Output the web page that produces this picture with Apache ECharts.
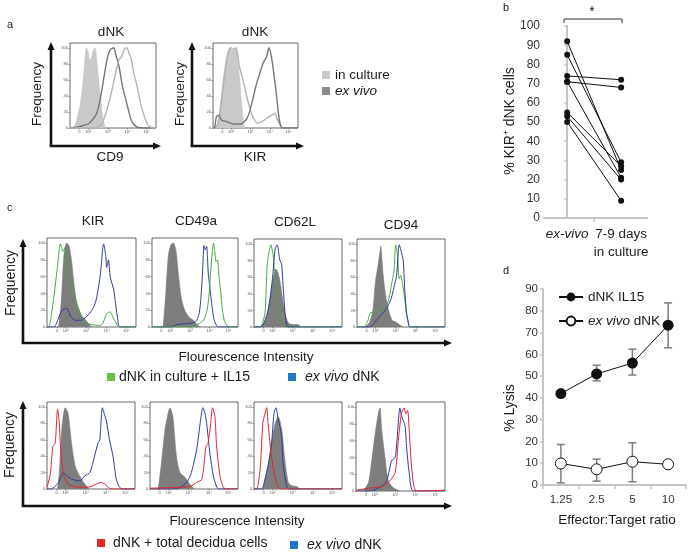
<!DOCTYPE html>
<html><head><meta charset="utf-8">
<script src="https://cdn.jsdelivr.net/npm/echarts@6/dist/echarts.min.js"></script>
<style>html,body{margin:0;padding:0;background:#fff}#c{width:690px;height:552px}</style>
</head><body><div id="c"></div>
<script>
// ---------- DATA ----------
// histogram axis (channel 0-100, frequency 0-100)
const histTickPos = [11, 21, 44, 67, 89];
const histTickText = ['0', '10\u00b2', '10\u00b3', '10\u2074', '10\u2075'];
const histYTicks = [0, 20, 40, 60, 80, 100];

// panel a: CD9
const aCD9_fill = [[3,0],[6,4],[9,15],[12,30],[15,55],[17,80],[19,100],[21,95],[23,84],[25,88],[27,96],[29,100],[31,85],[33,62],[35,42],[37,22],[39,8],[41,0]];
const aCD9_exvivo = [[0,0],[8,1],[15,3],[21,5],[26,10],[31,18],[35,35],[39,60],[43,85],[47,98],[51,100],[53,92],[55,85],[57,77],[61,52],[65,35],[69,18],[72,8],[78,1],[85,0],[100,0]];
const aCD9_culture = [[0,0],[25,0],[35,3],[41,16],[47,39],[53,68],[57,85],[60,89],[63,98],[66,100],[69,92],[71,87],[74,70],[78,52],[82,31],[86,16],[90,5],[94,1],[100,0]];
// panel a: KIR
const aKIR_fill = [[2,0],[5,5],[8,22],[12,60],[16,89],[20,100],[23,96],[26,100],[28,95],[31,64],[34,26],[37,0]];
const aKIR_culture = [[0,0],[4,2],[6,5],[10,35],[14,68],[18,94],[21,100],[24,98],[27,100],[29,92],[31,77],[34,65],[37,52],[40,38],[43,26],[46,16],[49,10],[52,6],[55,7],[59,9],[63,12],[69,16],[73,18],[75,12],[79,4],[82,0],[100,0]];
const aKIR_exvivo = [[0,0],[2,1],[4,14],[7,16],[10,10],[16,8],[24,5],[33,5],[37,8],[40,12],[43.5,22],[47.5,39],[51.4,56],[55,68],[59,81],[63,89],[66,100],[69,87],[72,64],[74.5,43],[77,18],[79.6,3],[82,0],[100,0]];

// panel c row 1 (in culture + IL15)
const cKIR_iso = [[13,0],[16,30],[19,85],[22,100],[25,96],[28,75],[31,45],[34,25],[38,15],[42,10],[46,5],[50,0]];
const cKIR_green = [[0,0],[2,0],[5,15],[7,30],[11.6,70],[15,99],[18,90],[20.5,95],[24,56],[29.5,44],[33.7,28],[41,8],[49,3],[60,2],[63,5],[67,16],[71,18],[74,12],[77,6],[80,1],[83,0],[100,0]];
const cKIR_blue = [[0,0],[8,0],[12,8],[17,20],[22,22],[27,12],[32,8],[38,8],[44,12],[49,18],[53,25],[56,36],[60,63],[63.6,99],[66,85],[67,71],[69,80],[71,60],[75,44],[77,28],[79,13],[82,0],[100,0]];
const cCD49a_iso = [[13,0],[16,40],[19,85],[22,98],[25,100],[28,90],[31,60],[34,35],[38,20],[43,12],[48,8],[53,2],[56,0]];
const cCD49a_blue = [[0,0],[20,0],[30,3],[40,4],[48,5],[52,8],[55,17],[57,36],[59,70],[60.5,97],[62,92],[63.5,96],[65.5,63],[67.5,45],[69.4,28],[71.5,12],[73.5,5],[77,0],[100,0]];
const cCD49a_green = [[0,0],[45,0],[50,2],[55,4],[60,8],[64,20],[66.5,40],[68,62],[70,88],[71.5,100],[73,90],[74.5,78],[76,80],[78,60],[80,40],[82,20],[84,8],[87,2],[90,0],[100,0]];
const cCD62L_iso = [[8,0],[12,6],[16,20],[19,40],[22,60],[25,70],[27,66],[29,58],[31,45],[33,30],[35,18],[37.5,8],[40,4],[45,3],[50,3],[53,0]];
const cCD62L_green = [[0,0],[6,0],[8.7,2],[12.5,17],[15,75],[17,90],[19,99],[21.6,88],[23,70],[24,64],[25,40],[27,25],[29,15],[31,8],[33,4],[36,0],[100,0]];
const cCD62L_blue = [[0,0],[8,0],[12.5,8],[16,20],[19,40],[21.5,64],[24,94],[26.5,99],[28,90],[29.5,80],[31.4,76],[33,50],[35,20],[37,3],[39,0],[100,0]];
const cCD94_iso = [[9,0],[14,5],[18,20],[21,55],[24,75],[26,90],[27,97],[28.5,80],[30,60],[33,35],[36,20],[40,8],[44,6],[48,3],[52,0]];
const cCD94_green = [[0,0],[8,0],[12.5,8],[15,17],[20,18],[26,20],[30,23],[34,27],[37,38],[39,50],[42,67],[44,99],[46,87],[48,58],[49.6,62],[52,50],[54.5,32],[56,16],[58,8],[60,0],[100,0]];
const cCD94_blue = [[0,0],[15,0],[22,8],[29.5,17],[35,25],[39,35],[42,48],[45,62],[48,99],[51,88],[52.6,80],[54.5,40],[56.5,16],[59,2],[61,0],[100,0]];

// panel c row 2 (+ total decidua cells)
const dKIR_iso = [[12,0],[14,20],[17,75],[20.6,99],[24,92],[28,55],[32,28],[37,16],[43,6],[48,0]];
const dKIR_red = [[0,2],[3.7,18],[6.7,52],[9.3,56],[12,97],[14,80],[15.7,45],[18.7,18],[22.5,8],[29.6,3],[45,2],[50,3],[56,6],[62,8],[65.5,6],[71,1],[75,0],[100,0]];
const dKIR_blue = [[0,0],[4,0],[9,3],[13,8],[18.7,20],[22.5,16],[28,12],[37,10],[43,16],[48.7,20],[54,40],[58,56],[60,60],[63,99],[65.5,90],[67.5,83],[71,60],[75,40],[78.7,12],[82,3],[85,0],[100,0]];
const dCD49a_iso = [[8,0],[9.5,2],[13,32],[17,72],[20.5,92],[22.7,99],[26,88],[30,40],[34,20],[40,14],[45,6],[50,0]];
const dCD49a_blue = [[0,0],[30,0],[34,2],[41.7,8],[47,20],[53,48],[57,80],[60,99],[62.5,92],[64.4,80],[68,44],[72,16],[76,2],[79,0],[100,0]];
const dCD49a_red = [[0,1],[34,2],[45,3],[53,8],[59,12],[63.6,52],[66,56],[69,80],[71,99],[73.8,88],[75.7,52],[79.5,16],[83,3],[86,0],[100,0]];
const dCD62L_iso = [[10,0],[16,28],[20,56],[24,80],[27.6,88],[31.5,72],[35,36],[39,8],[43,4],[48.5,3],[52,0]];
const dCD62L_red = [[0,0],[3,0],[7,25],[10,80],[12.5,92],[14.4,99],[16,80],[19,48],[22,24],[26,6],[30,0],[100,0]];
const dCD62L_blue = [[0,0],[8.7,0],[12.5,12],[16,28],[20,56],[22.7,92],[25,99],[27.6,84],[29.5,76],[31.5,64],[33,32],[37,4],[40,0],[100,0]];
const dCD94_iso = [[8,0],[14,10],[17.6,36],[21,64],[25,92],[27,99],[29,72],[32.6,40],[36.3,12],[42,4],[49.4,0]];
const dCD94_blue = [[0,0],[15.7,0],[29,6],[34.5,12],[40,36],[44,40],[45.7,56],[49.4,99],[51,90],[55,78],[57,50],[60,20],[64.5,0],[100,0]];
const dCD94_red = [[0,1],[19.5,4],[30.7,6],[38,12],[44,22],[47.5,60],[51,92],[54,99],[56,92],[58,96],[60,68],[62.5,28],[65,6],[68,0],[100,1]];

// panel b: % KIR+ dNK cells (paired)
const bCategories = ['ex-vivo', '7-9 days\nin culture'];
const bExVivo = [92, 85, 74, 71, 71, 55, 53, 50];
const bCulture = [25, 29, 72, 68, 21, 27, 20, 9];
const bYTicks = [0, 10, 20, 30, 40, 50, 60, 70, 80, 90, 100];

// panel d: % Lysis
const dRatios = ['1.25', '2.5', '5', '10'];
const dIL15 = [42, 51, 56, 73.4];
const dIL15Err = [[41, 43], [47.8, 55], [50.5, 62.4], [63, 83.6]];
const dExVivo = [9.9, 7.2, 10.7, 9.5];
const dExVivoErr = [[1, 18.6], [1.8, 11.9], [1.5, 19.4], [8.8, 10.2]];

// ---------- LAYOUT / STYLE ----------
const FONT = '"Liberation Sans", Arial, Helvetica, sans-serif';
const ST = {
  fillA: {color: '#c9c9c9', area: true, w: 0.8},
  light: {color: '#b4b4b4', w: 1.4},
  dark: {color: '#767676', w: 1.4},
  iso: {color: '#7d7d7d', area: true, w: 0.6},
  green: {color: '#46a847', w: 1},
  blue: {color: '#2c3c9c', w: 1},
  red: {color: '#e3242b', w: 1}
};
const hists = [
  {l:70, t:43, w:86, h:85, s:[[aCD9_fill,'fillA'],[aCD9_exvivo,'dark'],[aCD9_culture,'light']]},
  {l:213, t:43, w:85, h:85, s:[[aKIR_fill,'fillA'],[aKIR_culture,'light'],[aKIR_exvivo,'dark']]},
  {l:47, t:238, w:89, h:89, s:[[cKIR_iso,'iso'],[cKIR_blue,'blue'],[cKIR_green,'green']]},
  {l:152, t:238, w:86, h:89, s:[[cCD49a_iso,'iso'],[cCD49a_blue,'blue'],[cCD49a_green,'green']]},
  {l:254, t:239, w:88, h:88, s:[[cCD62L_iso,'iso'],[cCD62L_green,'green'],[cCD62L_blue,'blue']]},
  {l:357, t:239, w:88, h:88, s:[[cCD94_iso,'iso'],[cCD94_green,'green'],[cCD94_blue,'blue']]},
  {l:47, t:402, w:88, h:87, s:[[dKIR_iso,'iso'],[dKIR_blue,'blue'],[dKIR_red,'red']]},
  {l:150, t:402, w:88, h:87, s:[[dCD49a_iso,'iso'],[dCD49a_blue,'blue'],[dCD49a_red,'red']]},
  {l:254, t:402, w:88, h:87, s:[[dCD62L_iso,'iso'],[dCD62L_blue,'blue'],[dCD62L_red,'red']]},
  {l:356, t:402, w:89, h:89, s:[[dCD94_iso,'iso'],[dCD94_blue,'blue'],[dCD94_red,'red']]}
];

const grid = [], xAxis = [], yAxis = [], series = [];
hists.forEach((p, i) => {
  grid.push({left:p.l, top:p.t, width:p.w, height:p.h, show:true, borderColor:'#444', borderWidth:0.8, backgroundColor:'transparent'});
  xAxis.push({gridIndex:i, type:'value', min:0, max:100,
    axisLine:{show:false}, splitLine:{show:false},
    axisTick:{show:true, customValues:histTickPos, length:1.5, lineStyle:{color:'#555', width:0.6}},
    axisLabel:{customValues:histTickPos, formatter:v => histTickText[histTickPos.indexOf(v)], fontSize:4, color:'#555', margin:2, fontFamily:FONT}});
  yAxis.push({gridIndex:i, type:'value', min:0, max:106,
    axisLine:{show:false}, splitLine:{show:false},
    axisTick:{show:true, customValues:histYTicks, length:1.5, lineStyle:{color:'#555', width:0.6}},
    axisLabel:{customValues:histYTicks, fontSize:4, color:'#555', margin:2, fontFamily:FONT}});
  p.s.forEach(([data, k], j) => {
    const st = ST[k];
    series.push({type:'line', xAxisIndex:i, yAxisIndex:i, data:data, symbol:'none', smooth:0.25,
      lineStyle:{color:st.color, width:st.w}, areaStyle: st.area ? {color:st.color, opacity:1} : undefined,
      silent:true, z:2+j});
  });
});

// panel b
const bi = grid.length;
grid.push({left:544, top:26, width:103, height:192});
xAxis.push({gridIndex:bi, type:'value', min:-0.43, max:1.48,
  axisLine:{show:true, lineStyle:{color:'#c4c4c4', width:2}}, splitLine:{show:false},
  axisTick:{show:true, customValues:[0.5], length:4, lineStyle:{color:'#c4c4c4', width:1.5}},
  axisLabel:{customValues:[0, 1], margin:7, fontSize:13.5, color:'#222', fontFamily:FONT, lineHeight:18,
    formatter: v => v === 0 ? '{i|' + bCategories[0] + '}' : bCategories[1],
    rich:{i:{fontStyle:'italic', fontSize:13.5, fontFamily:FONT, color:'#222'}}}});
yAxis.push({gridIndex:bi, type:'value', min:0, max:100, interval:10,
  axisLine:{show:true, lineStyle:{color:'#c4c4c4', width:2}}, splitLine:{show:false},
  axisTick:{show:true, length:3, lineStyle:{color:'#c4c4c4', width:1.5}},
  axisLabel:{fontSize:12, color:'#333', margin:4, fontFamily:FONT}});
bExVivo.forEach((v, k) => {
  series.push({type:'line', xAxisIndex:bi, yAxisIndex:bi, data:[[0, v], [1, bCulture[k]]],
    symbol:'circle', symbolSize:6, itemStyle:{color:'#111'}, lineStyle:{color:'#111', width:1}, silent:true, z:5});
});

// panel d
const di = grid.length;
grid.push({left:543, top:289, width:143, height:196});
xAxis.push({gridIndex:di, type:'category', data:dRatios, boundaryGap:true,
  axisLine:{show:true, lineStyle:{color:'#c4c4c4', width:2}},
  axisTick:{show:true, length:4, lineStyle:{color:'#c4c4c4', width:1.5}},
  axisLabel:{fontSize:11.5, color:'#333', margin:9, fontFamily:FONT}});
yAxis.push({gridIndex:di, type:'value', min:0, max:90, interval:10,
  axisLine:{show:true, lineStyle:{color:'#c4c4c4', width:2}}, splitLine:{show:false},
  axisTick:{show:true, length:3, lineStyle:{color:'#c4c4c4', width:1.5}},
  axisLabel:{fontSize:11.5, color:'#333', margin:5, fontFamily:FONT}});
const errItem = (params, api) => {
  const x = api.value(0), lo = api.value(1), hi = api.value(2);
  const p1 = api.coord([x, lo]), p2 = api.coord([x, hi]);
  const w = 4, s = {stroke:'#7d7d7d', lineWidth:1.5};
  return {type:'group', children:[
    {type:'line', shape:{x1:p1[0], y1:p1[1], x2:p2[0], y2:p2[1]}, style:s},
    {type:'line', shape:{x1:p1[0]-w, y1:p1[1], x2:p1[0]+w, y2:p1[1]}, style:s},
    {type:'line', shape:{x1:p2[0]-w, y1:p2[1], x2:p2[0]+w, y2:p2[1]}, style:s}]};
};
series.push({type:'custom', name:'errIL15', xAxisIndex:di, yAxisIndex:di, renderItem:errItem,
  data:dIL15Err.map((e, k) => [k, e[0], e[1]]), encode:{x:0, y:[1, 2]}, silent:true, z:3});
series.push({type:'custom', name:'errExVivo', xAxisIndex:di, yAxisIndex:di, renderItem:errItem,
  data:dExVivoErr.map((e, k) => [k, e[0], e[1]]), encode:{x:0, y:[1, 2]}, silent:true, z:3});
series.push({type:'line', name:'dNK IL15', xAxisIndex:di, yAxisIndex:di, data:dIL15,
  symbol:'circle', symbolSize:11, itemStyle:{color:'#111'}, lineStyle:{color:'#111', width:1}, z:5});
series.push({type:'line', name:'ex vivo dNK', xAxisIndex:di, yAxisIndex:di, data:dExVivo,
  symbol:'circle', symbolSize:11, itemStyle:{color:'#fff', borderColor:'#111', borderWidth:1}, lineStyle:{color:'#111', width:1}, z:5});

// ---------- GRAPHICS (text, arrows, legends) ----------
const g = [];
const txt = (t, x, y, o = {}) => g.push({type:'text', x:x, y:y, rotation:o.rot || 0, silent:true,
  style:{text:t, fontSize:o.fs || 13.5, fontFamily:FONT, fontStyle:o.it ? 'italic' : 'normal', fill:o.c || '#1a1a1a',
    align:o.al || 'center', verticalAlign:'middle',
    rich:{i:{fontStyle:'italic', fontSize:o.fs || 13.5, fontFamily:FONT, fill:o.c || '#1a1a1a'}}}});
const sq = (x, y, c) => g.push({type:'rect', shape:{x:x, y:y, width:8, height:8}, style:{fill:c}, silent:true});
const arrowV = (x, y1, y2) => {
  g.push({type:'line', shape:{x1:x, y1:y1, x2:x, y2:y2 + 6}, style:{stroke:'#111', lineWidth:2.6}, silent:true});
  g.push({type:'polygon', shape:{points:[[x - 3.5, y2 + 8], [x + 3.5, y2 + 8], [x, y2]]}, style:{fill:'#111'}, silent:true});
};
const arrowH = (y, x1, x2) => {
  g.push({type:'line', shape:{x1:x1 - 1.3, y1:y, x2:x2 - 6, y2:y}, style:{stroke:'#111', lineWidth:2.6}, silent:true});
  g.push({type:'polygon', shape:{points:[[x2 - 8, y - 3.5], [x2 - 8, y + 3.5], [x2, y]]}, style:{fill:'#111'}, silent:true});
};
// panel letters
txt('a', 7, 25, {fs:11, al:'left'});
txt('b', 503, 8, {fs:11, al:'left'});
txt('c', 7, 208, {fs:11, al:'left'});
txt('d', 503, 271, {fs:11, al:'left'});
// panel a
txt('dNK', 111, 32); txt('dNK', 255, 32);
txt('Frequency', 37, 94, {rot:Math.PI / 2, fs:13.5});
txt('Frequency', 180, 94, {rot:Math.PI / 2, fs:13.5});
arrowV(51, 146, 42); arrowH(146, 51, 161);
arrowV(192, 146, 42); arrowH(146, 192, 304);
txt('CD9', 110, 157); txt('KIR', 255, 157);
sq(322, 71, '#c9c9c9'); txt('in culture', 335, 75, {al:'left'});
sq(322, 87, '#8a8a8a'); txt('ex vivo', 335, 91, {al:'left', it:true});
// panel b
txt('% KIR\u207a dNK cells', 510, 121, {rot:Math.PI / 2, fs:14});
g.push({type:'polyline', shape:{points:[[564, 23], [564, 19], [622, 19], [622, 23]]}, style:{stroke:'#333', lineWidth:1, fill:null}, silent:true});
txt('*', 592, 12, {fs:14});
// panel c
txt('KIR', 93, 221); txt('CD49a', 196, 221); txt('CD62L', 295, 222); txt('CD94', 401, 225);
txt('Frequency', 11, 283, {rot:Math.PI / 2, fs:14});
txt('Frequency', 10, 445, {rot:Math.PI / 2, fs:14});
arrowV(23, 343, 239); arrowH(343, 23, 452);
arrowV(23, 506, 401); arrowH(506, 23, 452);
txt('Flourescence Intensity', 246, 357, {fs:13.5});
txt('Flourescence Intensity', 237, 521, {fs:13.5});
sq(107, 373, '#6abf45'); txt('dNK in culture + IL15', 119, 377, {al:'left', fs:14});
sq(288, 373, '#1e78c8'); txt('{i|ex vivo} dNK', 305, 377, {al:'left', fs:14});
sq(97, 539, '#e32a2a'); txt('dNK + total decidua cells', 113, 543, {al:'left', fs:14});
sq(290, 541, '#1e78c8'); txt('{i|ex vivo} dNK', 307, 545, {al:'left', fs:14});
// panel d
txt('% Lysis', 510, 408, {rot:Math.PI / 2, fs:14});
txt('Effector:Target ratio', 617, 520, {fs:13.5});

const chart = echarts.init(document.getElementById('c'), null, {renderer:'canvas'});
chart.setOption({
  animation:false,
  backgroundColor:'#fff',
  grid:grid, xAxis:xAxis, yAxis:yAxis, series:series,
  legend:{data:['dNK IL15', 'ex vivo dNK'], left:553, top:285, orient:'vertical', itemWidth:24, itemHeight:11, itemGap:10,
    selectedMode:false,
    textStyle:{fontSize:13.5, fontFamily:FONT, color:'#1a1a1a', rich:{i:{fontStyle:'italic', fontSize:13.5, fontFamily:FONT, color:'#1a1a1a'}}},
    formatter:n => n === 'ex vivo dNK' ? '{i|ex vivo} dNK' : n},
  graphic:g
});
</script></body></html>
